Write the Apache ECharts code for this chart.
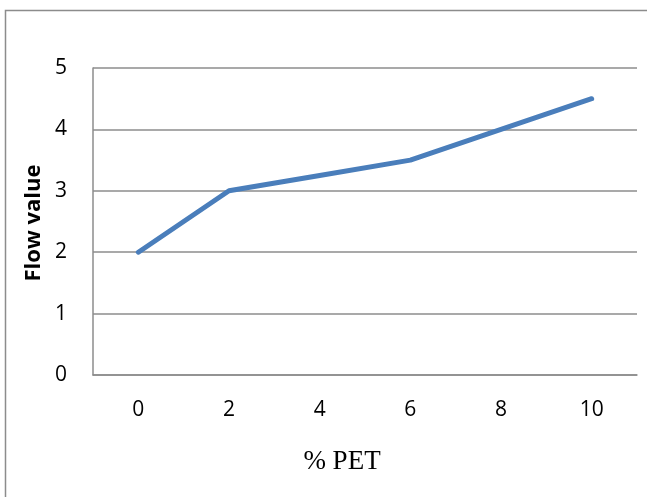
<!DOCTYPE html>
<html><head><meta charset="utf-8">
<script src="https://cdn.jsdelivr.net/npm/echarts@6/dist/echarts.min.js"></script>
<style>html,body{margin:0;padding:0;background:#fff}#c{width:647px;height:497px}</style>
</head><body><div id="c"></div>
<script>
const categories = ['0','2','4','6','8','10'];
const flowValues = [2, 3, 3.25, 3.5, 4, 4.5];
const yTicks = [0, 1, 2, 3, 4, 5];

const chart = echarts.init(document.getElementById('c'), null, {renderer:'canvas'});
chart.setOption({
  animation:false,
  backgroundColor:'#fff',
  grid:{left:93, right:10, top:68, bottom:122, containLabel:false},
  xAxis:{type:'category', data:categories, boundaryGap:true,
    axisLine:{lineStyle:{color:'#8c8c8c', width:1.5}},
    axisTick:{show:false},
    axisLabel:{color:'#000', fontFamily:'Open Sans', fontSize:21, margin:25}},
  yAxis:{type:'value', min:yTicks[0], max:yTicks[yTicks.length-1], interval:1,
    axisLine:{show:true, lineStyle:{color:'#8c8c8c', width:1.5}},
    axisTick:{show:false},
    splitLine:{lineStyle:{color:'#8c8c8c', width:1.5}},
    axisLabel:{color:'#000', fontFamily:'Open Sans', fontSize:21, margin:26}},
  series:[{type:'line', data:flowValues, showSymbol:false, symbol:'none',
    lineStyle:{color:'#4a7ebb', width:5, cap:'round', join:'round'}}],
  graphic:[
    {type:'rect', shape:{x:5.5, y:10.5, width:700, height:600}, style:{fill:'none', stroke:'#8c8c8c', lineWidth:1.5}, z:-1},
    {type:'text', x:342, y:462, style:{text:'% PET', fontFamily:'Liberation Serif', fontSize:27, fill:'#000', align:'center', verticalAlign:'middle'}},
    {type:'text', x:34, y:223, rotation:Math.PI/2, style:{text:'Flow value', fontFamily:'Open Sans', fontWeight:'bold', fontSize:22, fill:'#000', align:'center', verticalAlign:'middle'}}
  ]
});
</script></body></html>
